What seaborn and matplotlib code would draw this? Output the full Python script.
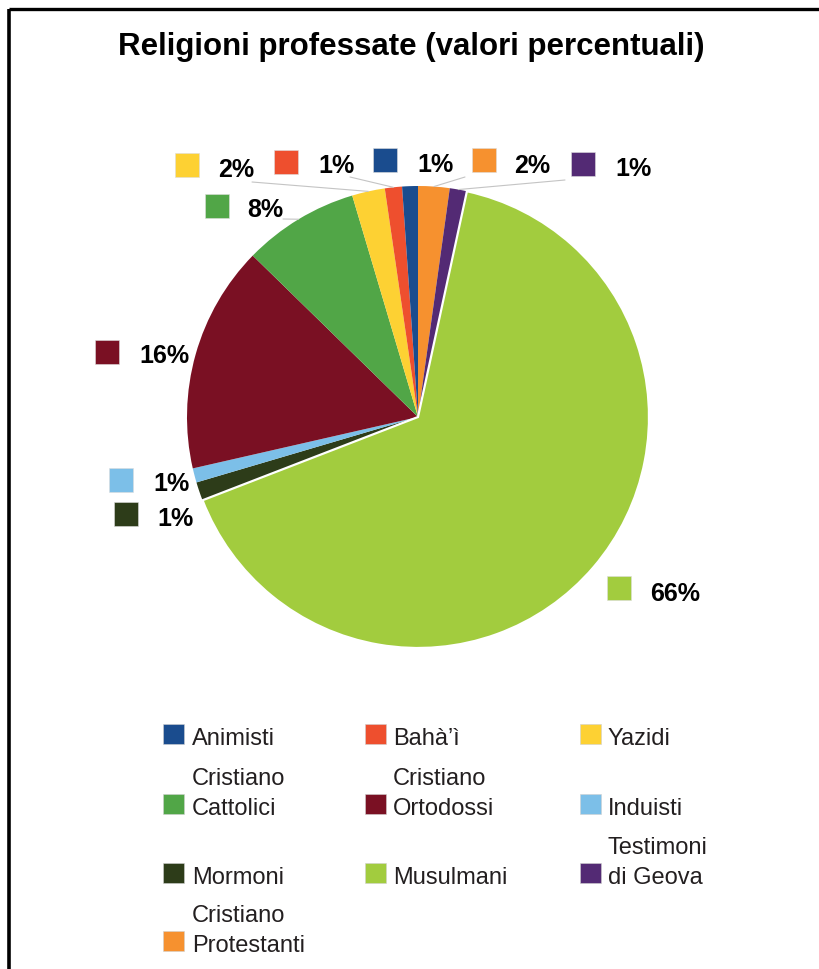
import matplotlib
matplotlib.use("Agg")
import matplotlib.pyplot as plt
from matplotlib.patches import Rectangle
from matplotlib.lines import Line2D
import numpy as np
import seaborn as sns

# ---------------- data ----------------
categories = ["Animisti", "Bahà’ì", "Yazidi", "Cristiano Cattolici", "Cristiano Ortodossi",
              "Induisti", "Mormoni", "Musulmani", "Testimoni di Geova", "Cristiano Protestanti"]
legend_labels = ["Animisti", "Bahà’ì", "Yazidi", "Cristiano\nCattolici", "Cristiano\nOrtodossi",
                 "Induisti", "Mormoni", "Musulmani", "Testimoni\ndi Geova", "Cristiano\nProtestanti"]
values = [1.1, 1.2, 2.3, 8.1, 15.9, 1.0, 1.3, 65.8, 1.2, 2.2]
colors = ["#1a4c8e", "#ee4f2e", "#fdd133", "#51a647", "#7a1023",
          "#7cbfe8", "#2d3c19", "#a2cc3e", "#532a74", "#f6912f"]
# order of slices, clockwise from 12 o'clock
pie_order = ["Cristiano Protestanti", "Testimoni di Geova", "Musulmani", "Mormoni", "Induisti",
             "Cristiano Ortodossi", "Cristiano Cattolici", "Yazidi", "Bahà’ì", "Animisti"]
title = "Religioni professate (valori percentuali)"

# ---------------- layout (image pixel coordinates) ----------------
W, H = 820, 970
CX, CY, R = 418, 418, 231
# label: (square left, square top, text x, text baseline)
label_pos = {
    "Yazidi": (175, 154, 218, 177),
    "Bahà’ì": (274, 151, 318, 173),
    "Animisti": (373, 149, 417, 172),
    "Cristiano Protestanti": (472, 149, 514, 173),
    "Testimoni di Geova": (571, 153, 615, 176),
    "Cristiano Cattolici": (205, 195, 247, 217),
    "Cristiano Ortodossi": (95, 341, 139, 363),
    "Induisti": (109, 469, 153, 491),
    "Mormoni": (114, 503, 157, 526),
    "Musulmani": (607, 577, 650, 601),
}
leader_start = {
    "Yazidi": (252, 183),
    "Bahà’ì": (350, 178),
    "Cristiano Protestanti": (465, 178),
    "Testimoni di Geova": (565, 181),
    "Cristiano Cattolici": (283, 220),
}
leg_sq_x = [163, 365, 580]
leg_tx_x = [192, 393, 608]
leg_base_y = [745, 815, 884, 952]

sns.set_style("white")
plt.rcParams['font.family'] = ['Liberation Sans', 'DejaVu Sans']

def Y(y):
    return H - y

fig = plt.figure(figsize=(W / 100, H / 100), dpi=100)
ax = fig.add_axes([0, 0, 1, 1])

palette = dict(zip(categories, sns.color_palette(colors)))
vals = [values[categories.index(c)] for c in pie_order]
wedges, _ = ax.pie(vals, colors=[palette[c] for c in pie_order], startangle=90,
                   counterclock=False, center=(CX, Y(CY)), radius=R,
                   wedgeprops=dict(linewidth=0))
for w, c in zip(wedges, pie_order):
    if c == "Musulmani":
        w.set_edgecolor("white")
        w.set_linewidth(1.6)
        w.set_zorder(3)

ax.set_xlim(0, W)
ax.set_ylim(0, H)
ax.set_aspect("equal")
ax.axis("off")

# percentage labels
for w, c in zip(wedges, pie_order):
    sx, sy, tx, ty = label_pos[c]
    ax.add_patch(Rectangle((sx, Y(sy + 24)), 24, 24, facecolor=palette[c],
                           edgecolor="#dddddd", linewidth=0.4, zorder=4))
    v = values[categories.index(c)]
    ax.text(tx, Y(ty), f"{round(v):d}%", fontsize=18, fontweight="bold",
            color="black", ha="left", va="baseline", zorder=5)
    if c in leader_start:
        mid = np.deg2rad((w.theta1 + w.theta2) / 2)
        ex = CX + R * np.cos(mid)
        ey = Y(CY) + R * np.sin(mid)
        x0, y0 = leader_start[c]
        ax.add_line(Line2D([x0, ex], [Y(y0), ey], color="#c4c4c4", lw=0.8, zorder=2))

# title
ax.text(411, Y(55), title, fontsize=22.5, fontweight="bold", color="black",
        ha="center", va="baseline")

# legend (3 columns)
for i, c in enumerate(categories):
    row, col = divmod(i, 3)
    base = leg_base_y[row]
    ax.add_patch(Rectangle((leg_sq_x[col], Y(base)), 21, 20, facecolor=palette[c],
                           edgecolor="#d0d0d0", linewidth=0.4))
    lines = legend_labels[i].split("\n")
    for k, line in enumerate(reversed(lines)):
        ax.text(leg_tx_x[col], Y(base - 30 * k), line, fontsize=17, color="#231f20",
                ha="left", va="baseline")

# frame border (top and left)
ax.add_line(Line2D([9, W], [Y(10), Y(10)], color="black", lw=2.4, solid_capstyle="butt"))
ax.add_line(Line2D([9, 9], [Y(10), 0], color="black", lw=2.6, solid_capstyle="butt"))

fig.savefig("out.png", dpi=100)
